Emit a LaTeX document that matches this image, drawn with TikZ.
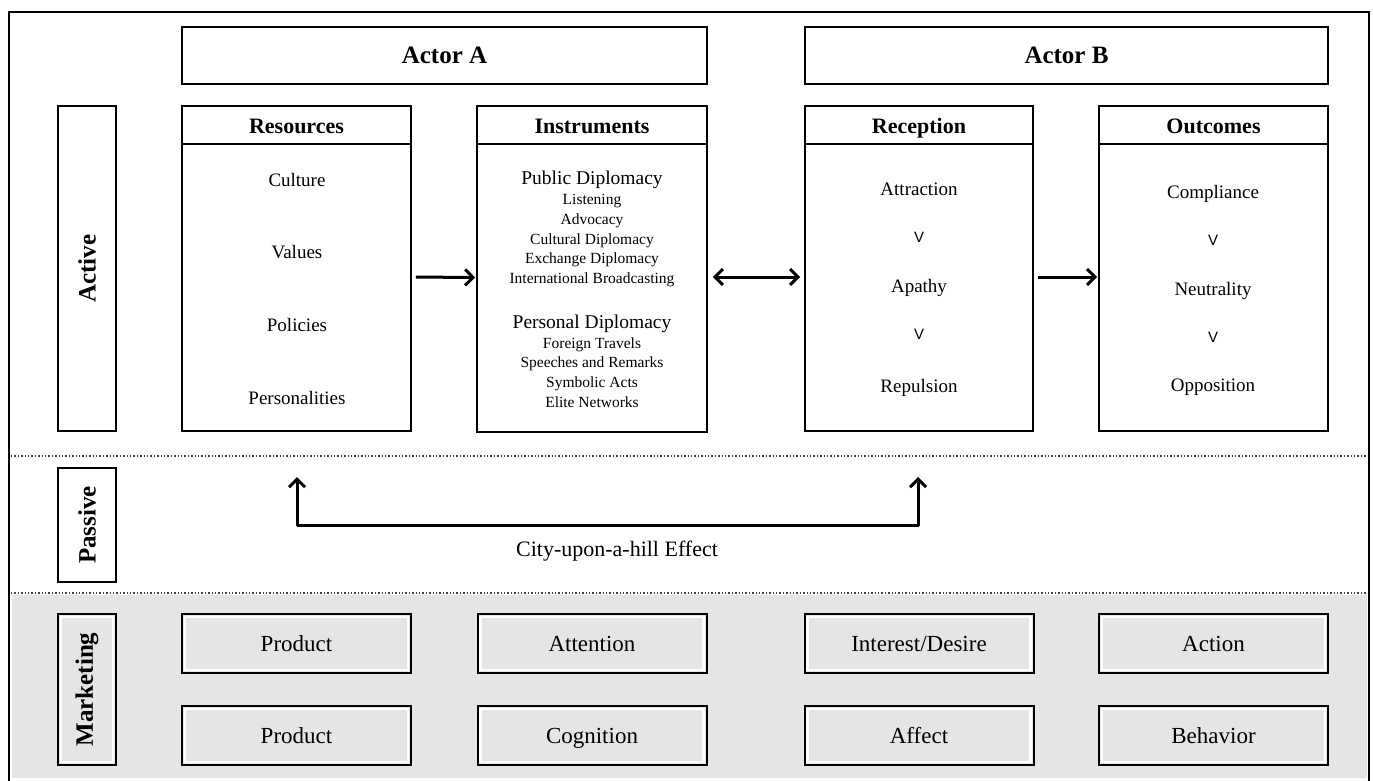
\documentclass[tikz,border=0pt]{standalone}
\usepackage{fontspec}
\setmainfont{Liberation Serif}
\newfontfamily\vfont{Liberation Sans}
\usetikzlibrary{arrows.meta}
\definecolor{mgray}{HTML}{E4E5E4}
\tikzset{
  tx/.style={anchor=base, yshift=-#1},
  box/.style={draw=black, line width=1.6pt, inner sep=0pt},
  hdr/.style={tx=7.5pt, font=\fontsize{22}{25}\selectfont\bfseries},
  big/.style={font=\fontsize{25}{28}\selectfont\bfseries},
  itm/.style={tx=6.5pt, font=\fontsize{19}{22}\selectfont},
  pd/.style={tx=6.6pt, font=\fontsize{19.5}{22}\selectfont},
  sub/.style={tx=5.3pt, font=\fontsize{15.5}{18}\selectfont},
  vee/.style={font=\vfont\fontsize{15}{17}\selectfont},
  vlab/.style={font=\fontsize{25}{28}\selectfont\bfseries, rotate=90},
  arr/.style={line width=3pt, -{Straight Barb[length=8pt,width=16pt,line width=3pt]}},
  darr/.style={line width=3pt, {Straight Barb[length=8pt,width=16pt,line width=3pt]}-{Straight Barb[length=8pt,width=16pt,line width=3pt]}},
  mbox/.style={draw=black, line width=2pt, fill=mgray, inner sep=0pt},
  mtxt/.style={tx=7.8pt, font=\fontsize{23}{26}\selectfont},
  sep/.style={line width=1.4pt, dotted, black!75},
}
\begin{document}
\begin{tikzpicture}[x=1pt,y=-1pt]
\useasboundingbox (0,0) rectangle (1373,780);
% gray marketing band
\fill[mgray] (12,595) rectangle (1367,778);
% outer frame
\draw[line width=2.6pt] (9,790) -- (9,12) -- (1369,12) -- (1369,790);
% separators
\draw[sep] (11,456) -- (1367,456);
\draw[sep] (11,593) -- (1367,593);

% Actor headers
\node[box, minimum width=525, minimum height=57, big] (actA) at (444.5,55.5) {Actor A};
\node[box, minimum width=523, minimum height=57, big] (actB) at (1066.5,55.5) {Actor B};

% Vertical labels
\node[box, minimum width=58, minimum height=325] (active) at (87,268.5) {};
\node[vlab] (activet) at (active.center) {Active};
\node[box, minimum width=58, minimum height=114] (passive) at (87,525) {};
\node[vlab] (passivet) at (passive.center) {Passive};
\node[mbox, minimum width=58, minimum height=151] (mkt) at (87,689.5) {};
\draw[white, line width=2pt] ([shift={(4pt,-4pt)}]mkt.north west) rectangle ([shift={(-4pt,4pt)}]mkt.south east);
\node[vlab] (mktt) at (mkt.center) {Marketing};

% Main boxes
\node[box, minimum width=229, minimum height=325] (res) at (296.5,268.5) {};
\node[box, minimum width=230, minimum height=326] (ins) at (592,269) {};
\node[box, minimum width=228, minimum height=325] (rec) at (919,268.5) {};
\node[box, minimum width=229, minimum height=325] (out) at (1213.5,268.5) {};
\foreach \b in {res,ins,rec,out}{
  \draw[line width=1.6pt] ([yshift=-39pt]\b.north west) -- ([yshift=-39pt]\b.north east);
}
\node[hdr] (resh) at (296.5,126) {Resources};
\node[hdr] (insh) at (592,126) {Instruments};
\node[hdr] (rech) at (919,126) {Reception};
\node[hdr] (outh) at (1213.5,126) {Outcomes};

% Resources items
\node[itm] (r1) at (297,180) {Culture};
\node[itm] (r2) at (297,252) {Values};
\node[itm] (r3) at (297,325) {Policies};
\node[itm] (r4) at (297,398) {Personalities};

% Instruments items
\node[pd] (i0) at (592,178) {Public Diplomacy};
\node[sub] (i1) at (592,199) {Listening};
\node[sub] (i2) at (592,219) {Advocacy};
\node[sub] (i3) at (592,239) {Cultural Diplomacy};
\node[sub] (i4) at (592,258) {Exchange Diplomacy};
\node[sub] (i5) at (592,278) {International Broadcasting};
\node[pd] (i6) at (592,322) {Personal Diplomacy};
\node[sub] (i7) at (592,343) {Foreign Travels};
\node[sub] (i8) at (592,362) {Speeches and Remarks};
\node[sub] (i9) at (592,382) {Symbolic Acts};
\node[sub] (i10) at (592,402) {Elite Networks};

% Reception items
\node[itm] (c1) at (919,189) {Attraction};
\node[vee] (c2) at (919,237) {V};
\node[itm] (c3) at (919,286) {Apathy};
\node[vee] (c4) at (919,334) {V};
\node[itm] (c5) at (919,386) {Repulsion};

% Outcomes items
\node[itm] (o1) at (1213,192) {Compliance};
\node[vee] (o2) at (1213,240) {V};
\node[itm] (o3) at (1213,289) {Neutrality};
\node[vee] (o4) at (1213,337) {V};
\node[itm] (o5) at (1213,385) {Opposition};

% Arrows
\draw[arr, shorten <=4pt, shorten >=1pt] ([yshift=-8.5pt]res.east) -- ([yshift=-8.5pt]ins.west);
\draw[darr, shorten <=5pt, shorten >=4pt] ([yshift=-8pt]ins.east) -- ([yshift=-8.5pt]rec.west);
\draw[arr, shorten <=4pt, shorten >=1pt] ([yshift=-8.5pt]rec.east) -- ([yshift=-8.5pt]out.west);

% Passive arrows
\coordinate (pa) at (297,477);
\coordinate (pb) at (918,477);
\coordinate (pm) at (607,525);
\draw[darr, line join=round] (pa) |- (pm) -| (pb);
\node[tx=7.5pt, font=\fontsize{22}{25}\selectfont] (city) at (617,549) {City-upon-a-hill Effect};

% Marketing boxes
\foreach \n/\x/\y/\t in {m1/296.5/643.5/Product, m2/592/643.5/Attention, m3/919/643.5/{Interest/Desire}, m4/1213.5/643.5/Action,
                         m5/296.5/735.5/Product, m6/592/735.5/Cognition, m7/919/735.5/Affect, m8/1213.5/735.5/Behavior}{
  \node[mbox, minimum width=229, minimum height=59] (\n) at (\x,\y) {};
  \draw[white, line width=2.5pt] ([shift={(4pt,-4pt)}]\n.north west) rectangle ([shift={(-4pt,4pt)}]\n.south east);
  \node[mtxt] (\n-t) at (\n.center) {\t};
}
\end{tikzpicture}
\end{document}
